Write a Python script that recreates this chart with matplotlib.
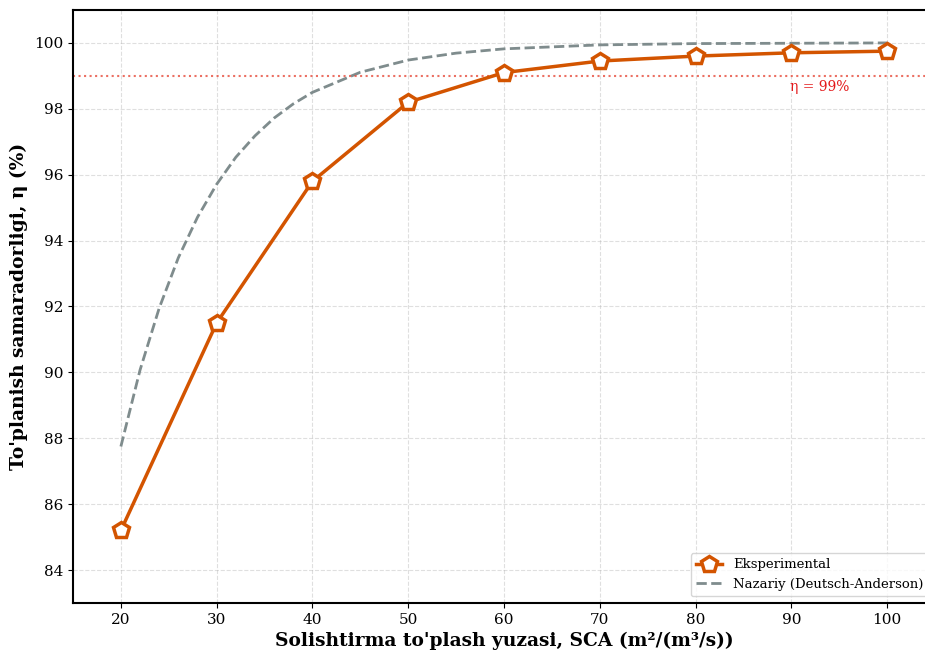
import numpy as np
import matplotlib
matplotlib.use('Agg')
import matplotlib.pyplot as plt

plt.rcParams['font.family'] = 'DejaVu Serif'

# experimental
sca = [20, 30, 40, 50, 60, 70, 80, 90, 100]
eta_exp = [85.2, 91.5, 95.8, 98.2, 99.1, 99.45, 99.6, 99.7, 99.75]

# theoretical curve
sca_teor = [20, 22, 24, 26, 28, 30, 32, 34, 36, 38, 40, 45, 50, 55, 60, 70, 80, 90, 100]
eta_teor = [87.75, 90.07, 91.95, 93.48, 94.71, 95.71, 96.53, 97.18, 97.72, 98.15,
            98.5, 99.11, 99.48, 99.69, 99.82, 99.94, 99.98, 99.99, 100.0]

fig = plt.figure(figsize=(9.25, 6.52), dpi=100)
ax = fig.add_axes([0.0789, 0.0752, 0.932, 0.9095])

ax.plot(sca, eta_exp, color='#d35400', linewidth=2.5, marker='p', markersize=12,
        markerfacecolor='white', markeredgecolor='#d35400', markeredgewidth=2.5,
        label='Eksperimental', zorder=3)
ax.plot(sca_teor, eta_teor, color='#7f8c8d', linestyle='--', linewidth=2,
        label='Nazariy (Deutsch-Anderson)', zorder=2)
ax.axhline(99, color='#e74c3c', linestyle=':', linewidth=1.5, alpha=0.8)
ax.text(93, 98.65, 'η = 99%', color='#e41a1c', fontsize=10, ha='center', va='center')

ax.set_xlim(15, 105)
ax.set_ylim(83, 101)
ax.set_xticks([20, 30, 40, 50, 60, 70, 80, 90, 100])
ax.set_yticks([84, 86, 88, 90, 92, 94, 96, 98, 100])
ax.tick_params(labelsize=11)
ax.grid(True, linestyle='--', alpha=0.4)
for s in ax.spines.values():
    s.set_linewidth(1.5)

ax.set_xlabel("Solishtirma to'plash yuzasi, SCA (m²/(m³/s))", fontsize=13.4, fontweight='bold')
ax.set_ylabel("To'planish samaradorligi, η (%)", fontsize=13.4, fontweight='bold')
ax.legend(loc='lower right', fontsize=9.5)

fig.savefig('out.png', dpi=100)
